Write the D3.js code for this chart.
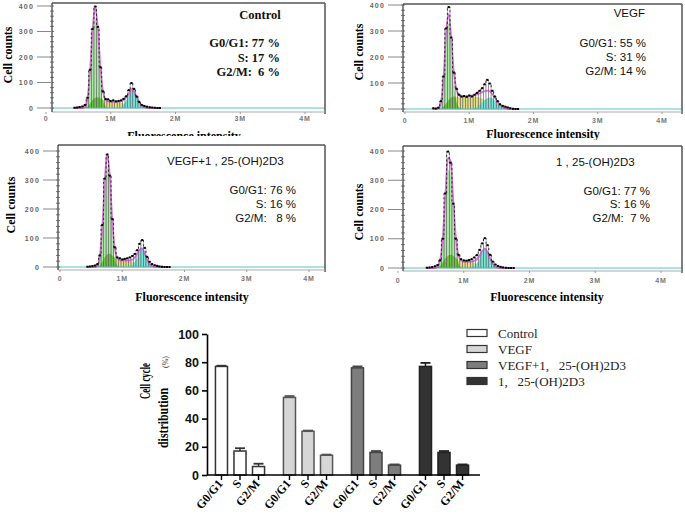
<!DOCTYPE html>
<meta charset="utf-8">
<style>
  body { margin: 0; background: #fff; }
  svg { display: block; }
  text { white-space: pre; }
</style>
<body>
<script src="https://cdn.jsdelivr.net/npm/d3@7"></script>
<script>
    // ---- Histogram data (fluorescence bins in millions, counts) ----
    const binsM = [0.44, 0.48, 0.52, 0.56, 0.60, 0.64, 0.68, 0.72, 0.76, 0.80, 0.84, 0.88, 0.92, 0.96, 1.00, 1.04, 1.08,
                   1.12, 1.16, 1.20, 1.24, 1.28, 1.32, 1.36, 1.40, 1.44, 1.48, 1.52, 1.56, 1.60, 1.64, 1.68, 1.72, 1.76];

    const ctrlCounts = [1, 2, 4, 6, 12, 40, 150, 310, 398, 318, 160, 65, 35, 34, 27, 30, 26, 28, 30, 36, 46, 70, 98, 75, 45, 24, 12, 8, 5, 3, 2, 1, 0, 0];
    const ctrlG1 = [0, 0, 0, 0, 5, 33, 123, 273, 355, 273, 123, 33, 5, 0, 0, 0, 0, 0, 0, 0, 0, 0, 0, 0, 0, 0, 0, 0, 0, 0, 0, 0, 0, 0];
    const ctrlS = [0, 0, 0, 0, 0, 5, 18, 32, 40, 42, 38, 32, 28, 26, 25, 25, 24, 24, 22, 18, 12, 6, 2, 0, 0, 0, 0, 0, 0, 0, 0, 0, 0, 0];
    const ctrlG2 = [0, 0, 0, 0, 0, 0, 0, 0, 0, 0, 0, 0, 0, 0, 0, 0, 0, 1, 5, 14, 30, 52, 72, 66, 44, 22, 9, 3, 1, 0, 0, 0, 0, 0];

    const vegfCounts = [3, 2, 5, 30, 125, 310, 392, 275, 140, 78, 55, 48, 50, 47, 52, 48, 55, 62, 70, 80, 95, 112, 98, 70, 48, 30, 18, 12, 9, 6, 3, 1, 0, 0];
    const vegfG1 = [0, 0, 3, 25, 110, 270, 330, 225, 95, 28, 6, 1, 0, 0, 0, 0, 0, 0, 0, 0, 0, 0, 0, 0, 0, 0, 0, 0, 0, 0, 0, 0, 0, 0];
    const vegfS = [0, 0, 0, 2, 10, 22, 35, 44, 48, 48, 47, 47, 48, 49, 50, 50, 49, 47, 44, 40, 35, 30, 24, 17, 11, 6, 3, 1, 0, 0, 0, 0, 0, 0];
    const vegfG2 = [0, 0, 0, 0, 0, 0, 0, 0, 0, 0, 0, 0, 0, 0, 0, 1, 4, 9, 16, 25, 34, 41, 44, 40, 32, 22, 13, 7, 3, 1, 0, 0, 0, 0];

    const comboCounts = [1, 2, 3, 5, 10, 40, 145, 305, 388, 315, 165, 68, 33, 30, 26, 28, 30, 33, 38, 45, 58, 80, 93, 66, 35, 18, 10, 6, 4, 2, 1, 0, 0, 0];
    const comboG1 = [0, 0, 0, 0, 5, 32, 120, 265, 345, 265, 120, 32, 5, 0, 0, 0, 0, 0, 0, 0, 0, 0, 0, 0, 0, 0, 0, 0, 0, 0, 0, 0, 0, 0];
    const comboS = [0, 0, 0, 0, 0, 5, 18, 34, 44, 46, 40, 32, 26, 24, 23, 23, 22, 21, 18, 14, 9, 5, 2, 0, 0, 0, 0, 0, 0, 0, 0, 0, 0, 0];
    const comboG2 = [0, 0, 0, 0, 0, 0, 0, 0, 0, 0, 0, 0, 0, 0, 0, 0, 0, 2, 7, 18, 35, 55, 62, 48, 26, 10, 3, 1, 0, 0, 0, 0, 0, 0];

    const d3Counts = [1, 2, 3, 6, 10, 26, 100, 255, 398, 360, 220, 100, 45, 30, 26, 25, 27, 30, 36, 44, 62, 84, 102, 78, 45, 22, 12, 7, 4, 2, 1, 0, 0, 0];
    const d3G1 = [0, 0, 0, 0, 3, 18, 80, 215, 335, 320, 190, 70, 15, 2, 0, 0, 0, 0, 0, 0, 0, 0, 0, 0, 0, 0, 0, 0, 0, 0, 0, 0, 0, 0];
    const d3S = [0, 0, 0, 0, 2, 8, 20, 33, 42, 45, 42, 34, 27, 24, 22, 22, 21, 20, 18, 14, 9, 5, 2, 0, 0, 0, 0, 0, 0, 0, 0, 0, 0, 0];
    const d3G2 = [0, 0, 0, 0, 0, 0, 0, 0, 0, 0, 0, 0, 0, 0, 0, 0, 0, 2, 6, 16, 32, 52, 64, 56, 34, 15, 5, 1, 0, 0, 0, 0, 0, 0];

    const histTitles = ["Control", "VEGF", "VEGF+1 , 25-(OH)2D3", "1 , 25-(OH)2D3"];
    const histPhaseLines = [
        ["G0/G1: 77 %", "S: 17 %", "G2/M:  6 %"],
        ["G0/G1: 55 %", "S: 31 %", "G2/M: 14 %"],
        ["G0/G1: 76 %", "S: 16 %", "G2/M:   8 %"],
        ["G0/G1: 77 %", "S: 16 %", "G2/M:  7 %"]
    ];
    const countTicks = [0, 100, 200, 300, 400];
    const intensityTicks = [0, 1, 2, 3, 4];
    const intensityLabels = ["0", "1M", "2M", "3M", "4M"];

    // ---- Bar chart data ----
    const groups = ["Control", "VEGF", "VEGF+1,   25-(OH)2D3", "1,   25-(OH)2D3"];
    const phases = ["G0/G1", "S", "G2/M"];
    const controlMeans = [77, 17, 6];
    const vegfMeans = [55, 31, 14];
    const comboMeans = [76, 16, 7];
    const d3Means = [77, 16, 7];
    const controlErr = [0.5, 2, 2];
    const vegfErr = [1, 0.5, 0.5];
    const comboErr = [1, 1, 0.5];
    const d3Err = [2.5, 1, 0.5];
    const barTicks = [0, 20, 40, 60, 80, 100];

    const svg = d3.select("body").append("svg")
        .attr("width", 685)
        .attr("height", 516);
    const defs = svg.append("defs");

    // ---- Histogram panels ----
    let panels = [
        { counts: ctrlCounts, g1: ctrlG1, s: ctrlS, g2: ctrlG2, frame: { l: 52, r: 325, t: 3, b: 112 },
          x0: 46, x4: 305, y0: 108, y400: 6, clip: 136, serif: true,
          title: { x: 260, y: 19, anchor: "middle" }, lines: { x: 280, y: [47, 62, 76] },
          yTitle: { x: 12, y: 55 }, xTitle: { x: 184, y: 140 }, tickY: 121 },
        { counts: vegfCounts, g1: vegfG1, s: vegfS, g2: vegfG2, frame: { l: 403, r: 682, t: 4, b: 112 },
          x0: 405, x4: 662, y0: 109, y400: 5, clip: 140, serif: false,
          title: { x: 645, y: 17, anchor: "end" }, lines: { x: 646, y: [47, 61, 75] },
          yTitle: { x: 363, y: 52 }, xTitle: { x: 543, y: 138 }, tickY: 123 },
        { counts: comboCounts, g1: comboG1, s: comboS, g2: comboG2, frame: { l: 58, r: 325, t: 145, b: 270 },
          x0: 60, x4: 309, y0: 267, y400: 151, clip: null, serif: false,
          title: { x: 167, y: 165, anchor: "start" }, lines: { x: 296, y: [194, 208, 222] },
          yTitle: { x: 15, y: 205 }, xTitle: { x: 192, y: 301 }, tickY: 281 },
        { counts: d3Counts, g1: d3G1, s: d3S, g2: d3G2, frame: { l: 403, r: 682, t: 146, b: 271 },
          x0: 398, x4: 661, y0: 268, y400: 151, clip: null, serif: false,
          title: { x: 556, y: 166, anchor: "start" }, lines: { x: 650, y: [195, 208, 222] },
          yTitle: { x: 363, y: 212 }, xTitle: { x: 547, y: 301 }, tickY: 283 }
    ];

    const serif = "'Liberation Serif', serif";
    const sans = "'Liberation Sans', Arial, sans-serif";

    panels.forEach((p, i) => {
        let g = svg.append("g");
        if (p.clip) {
            defs.append("clipPath").attr("id", "pclip" + i)
                .append("rect").attr("x", 0).attr("y", 0).attr("width", 685).attr("height", p.clip);
            g.attr("clip-path", `url(#pclip${i})`);
        }
        let x = d3.scaleLinear().domain([0, 4]).range([p.x0, p.x4]);
        let y = d3.scaleLinear().domain([0, 400]).range([p.y0, p.y400]);
        let f = p.frame;

        let area = d3.area()
            .x((d, j) => x(binsM[j]))
            .y0(y(0))
            .y1(d => y(d))
            .curve(d3.curveMonotoneX);

        // phase components
        g.append("path").datum(p.s).attr("d", area).attr("fill", "#e3df86");
        g.append("path").datum(p.g2).attr("d", area).attr("fill", "#78e4d8");
        g.append("path").datum(p.g1).attr("d", area).attr("fill", "#aee8a8");
        defs.append("clipPath").attr("id", "g1clip" + i)
            .append("path").attr("d", area(p.g1));
        g.append("path").datum(p.s).attr("d", area)
            .attr("fill", "#6cc244")
            .attr("clip-path", `url(#g1clip${i})`);

        // histogram bars
        let bw = x(0.04) - x(0);
        g.selectAll(".hbar")
            .data(p.counts)
            .enter()
            .append("rect")
            .attr("x", (d, j) => x(binsM[j]) - bw / 2)
            .attr("y", d => y(d))
            .attr("width", bw)
            .attr("height", d => y(0) - y(d))
            .attr("fill", "none")
            .attr("stroke", "#4d4d4d")
            .attr("stroke-width", 0.6)
            .attr("opacity", 0.6);

        // baseline
        g.append("line")
            .attr("x1", f.l).attr("x2", f.r)
            .attr("y1", y(0)).attr("y2", y(0))
            .attr("stroke", "#58c4c0").attr("stroke-width", 1);

        // model fit (sum of the three phases)
        let fit = p.g1.map((v, j) => v + p.s[j] + p.g2[j]);
        g.append("path")
            .datum(fit)
            .attr("d", d3.line().x((d, j) => x(binsM[j])).y(d => y(d)).curve(d3.curveMonotoneX))
            .attr("fill", "none")
            .attr("stroke", "#c23cc2")
            .attr("stroke-width", 1.8)
            .attr("opacity", 0.7);

        // measured histogram outline (dotted)
        g.append("path")
            .datum(p.counts)
            .attr("d", d3.line().x((d, j) => x(binsM[j])).y(d => y(d)).curve(d3.curveStep))
            .attr("fill", "none")
            .attr("stroke", "#1a1a1a")
            .attr("stroke-width", 0.9)
            .attr("stroke-dasharray", "2,2.5");
        g.selectAll(".dot")
            .data(p.counts)
            .enter()
            .append("rect")
            .attr("x", (d, j) => x(binsM[j]) - 1)
            .attr("y", d => y(d) - 1)
            .attr("width", 2)
            .attr("height", 2)
            .attr("fill", "#000");

        // frame
        g.append("line").attr("x1", f.l).attr("x2", f.r).attr("y1", f.t).attr("y2", f.t)
            .attr("stroke", "#555").attr("stroke-width", 1.5);
        g.append("line").attr("x1", f.r).attr("x2", f.r).attr("y1", f.t).attr("y2", f.b + 2)
            .attr("stroke", "#555").attr("stroke-width", 1.5);
        g.append("line").attr("x1", f.l).attr("x2", f.r).attr("y1", f.b).attr("y2", f.b)
            .attr("stroke", "#aaa").attr("stroke-width", 1);
        g.append("line").attr("x1", f.l).attr("x2", f.l).attr("y1", f.t).attr("y2", f.b)
            .attr("stroke", "#333").attr("stroke-width", 1.2);

        // y ticks
        g.selectAll(".minor")
            .data(d3.range(0, 401, 20))
            .enter()
            .append("line")
            .attr("x1", f.l - 2).attr("x2", f.l + 2)
            .attr("y1", d => y(d)).attr("y2", d => y(d))
            .attr("stroke", "#555").attr("stroke-width", 0.8);
        g.selectAll(".major")
            .data(countTicks)
            .enter()
            .append("line")
            .attr("x1", f.l - 15).attr("x2", f.l)
            .attr("y1", d => y(d)).attr("y2", d => y(d))
            .attr("stroke", "#888").attr("stroke-width", 1);
        g.selectAll(".ylab")
            .data(countTicks)
            .enter()
            .append("text")
            .attr("x", f.l - 18)
            .attr("y", d => y(d) + 2.5)
            .attr("text-anchor", "end")
            .attr("font-family", sans)
            .attr("font-size", 7)
            .attr("font-weight", "bold")
            .attr("letter-spacing", 1.2)
            .attr("fill", "#666")
            .text(d => d);

        // x ticks
        g.selectAll(".xt")
            .data(intensityTicks)
            .enter()
            .append("line")
            .attr("x1", d => x(d)).attr("x2", d => x(d))
            .attr("y1", f.b).attr("y2", f.b + 2)
            .attr("stroke", "#999");
        g.selectAll(".xlab")
            .data(intensityTicks)
            .enter()
            .append("text")
            .attr("x", d => x(d))
            .attr("y", p.tickY)
            .attr("text-anchor", "middle")
            .attr("font-family", sans)
            .attr("font-size", 7)
            .attr("font-weight", "bold")
            .attr("letter-spacing", 0.8)
            .attr("fill", "#777")
            .text((d, j) => intensityLabels[j]);

        // axis titles
        g.append("text")
            .attr("transform", `translate(${p.yTitle.x},${p.yTitle.y}) rotate(-90)`)
            .attr("text-anchor", "middle")
            .attr("font-family", serif)
            .attr("font-weight", "bold")
            .attr("font-size", 12)
            .text("Cell counts");
        g.append("text")
            .attr("x", p.xTitle.x)
            .attr("y", p.xTitle.y)
            .attr("text-anchor", "middle")
            .attr("font-family", serif)
            .attr("font-weight", "bold")
            .attr("font-size", 12)
            .text("Fluorescence intensity");

        // annotation
        g.append("text")
            .attr("x", p.title.x)
            .attr("y", p.title.y)
            .attr("text-anchor", p.title.anchor)
            .attr("font-family", p.serif ? serif : sans)
            .attr("font-weight", p.serif ? "bold" : "normal")
            .attr("font-size", p.serif ? 12.5 : 11.5)
            .attr("fill", "#111")
            .text(histTitles[i]);
        g.selectAll(".pl")
            .data(histPhaseLines[i])
            .enter()
            .append("text")
            .attr("x", p.lines.x)
            .attr("y", (d, j) => p.lines.y[j])
            .attr("text-anchor", "end")
            .attr("font-family", p.serif ? serif : sans)
            .attr("font-weight", p.serif ? "bold" : "normal")
            .attr("font-size", p.serif ? 12.5 : 11.5)
            .attr("fill", "#111")
            .text(d => d);
    });

    // ---- Bar chart ----
    let means = [controlMeans, vegfMeans, comboMeans, d3Means];
    let errs = [controlErr, vegfErr, comboErr, d3Err];
    let fills = ["#ffffff", "#d6d6d6", "#7d7d7d", "#333333"];
    let strokes = ["#333", "#555", "#444", "#222"];

    let bars = groups.flatMap((grp, gi) => phases.map((ph, pi) => ({
        grp, gi, ph, value: means[gi][pi], err: errs[gi][pi]
    })));

    let xOuter = d3.scaleBand().domain(groups).range([206, 478]);
    let xInner = d3.scaleBand().domain(phases).range([0, xOuter.bandwidth()])
        .paddingInner(0.35).paddingOuter(0.51);
    let yBar = d3.scaleLinear().domain([0, 100]).range([475, 334]);
    let bx = d => xOuter(d.grp) + xInner(d.ph);
    let bcx = d => bx(d) + xInner.bandwidth() / 2;

    let bg = svg.append("g");

    bg.selectAll(".bar")
        .data(bars)
        .enter()
        .append("rect")
        .attr("x", bx)
        .attr("y", d => yBar(d.value))
        .attr("width", xInner.bandwidth())
        .attr("height", d => yBar(0) - yBar(d.value))
        .attr("fill", d => fills[d.gi])
        .attr("stroke", d => strokes[d.gi])
        .attr("stroke-width", 1.5);

    // error bars
    bg.selectAll(".ev")
        .data(bars)
        .enter()
        .append("line")
        .attr("x1", bcx).attr("x2", bcx)
        .attr("y1", d => yBar(d.value)).attr("y2", d => yBar(d.value + d.err))
        .attr("stroke", d => strokes[d.gi]).attr("stroke-width", 1.5);
    bg.selectAll(".ec")
        .data(bars)
        .enter()
        .append("line")
        .attr("x1", d => bcx(d) - 5).attr("x2", d => bcx(d) + 5)
        .attr("y1", d => yBar(d.value + d.err)).attr("y2", d => yBar(d.value + d.err))
        .attr("stroke", d => strokes[d.gi]).attr("stroke-width", 1.8);

    // y axis
    let yAxis = bg.append("g")
        .attr("transform", "translate(207,0)")
        .call(d3.axisLeft(yBar).tickValues(barTicks).tickSize(5).tickSizeOuter(0));
    yAxis.select(".domain").attr("stroke-width", 1.6);
    yAxis.selectAll(".tick line").attr("stroke-width", 1.6);
    yAxis.selectAll("text")
        .attr("font-family", sans)
        .attr("font-weight", "bold")
        .attr("font-size", 12.5)
        .attr("fill", "#111");

    // x axis
    bg.append("line")
        .attr("x1", 207).attr("x2", 480)
        .attr("y1", yBar(0)).attr("y2", yBar(0))
        .attr("stroke", "#000").attr("stroke-width", 1.6);
    bg.selectAll(".xtick")
        .data(bars)
        .enter()
        .append("line")
        .attr("x1", bcx).attr("x2", bcx)
        .attr("y1", yBar(0)).attr("y2", yBar(0) + 5)
        .attr("stroke", "#000").attr("stroke-width", 1.4);
    bg.selectAll(".xlabel")
        .data(bars)
        .enter()
        .append("text")
        .attr("transform", d => `translate(${bcx(d) + 2},${yBar(0) + 9}) rotate(-50)`)
        .attr("text-anchor", "end")
        .attr("font-family", serif)
        .attr("font-weight", "bold")
        .attr("font-size", 12)
        .text(d => d.ph);

    // y title
    bg.append("text")
        .attr("transform", "translate(150,381) rotate(-90)")
        .attr("text-anchor", "middle")
        .attr("font-family", serif)
        .attr("font-weight", "bold")
        .attr("font-size", 14)
        .attr("textLength", 36)
        .attr("lengthAdjust", "spacingAndGlyphs")
        .text("Cell cycle");
    bg.append("text")
        .attr("transform", "translate(168,418) rotate(-90)")
        .attr("text-anchor", "middle")
        .attr("font-family", serif)
        .attr("font-weight", "bold")
        .attr("font-size", 14)
        .attr("textLength", 60)
        .attr("lengthAdjust", "spacingAndGlyphs")
        .text("distribution");
    bg.append("text")
        .attr("transform", "translate(168,362) rotate(-90)")
        .attr("text-anchor", "middle")
        .attr("font-family", serif)
        .attr("font-size", 8)
        .attr("fill", "#333")
        .text("(%)");

    // legend
    let legend = svg.append("g");
    let legendY = d3.scalePoint().domain(groups).range([333, 381]);
    legend.selectAll("rect")
        .data(groups)
        .enter()
        .append("rect")
        .attr("x", 467)
        .attr("y", d => legendY(d) - 3.5)
        .attr("width", 20)
        .attr("height", 7)
        .attr("fill", (d, i) => fills[i])
        .attr("stroke", "#333")
        .attr("stroke-width", 1.2);
    legend.selectAll("text")
        .data(groups)
        .enter()
        .append("text")
        .attr("x", 498)
        .attr("y", d => legendY(d) + 4.5)
        .attr("font-family", serif)
        .attr("font-size", 13)
        .attr("fill", "#222")
        .text(d => d);
</script>
</body>
